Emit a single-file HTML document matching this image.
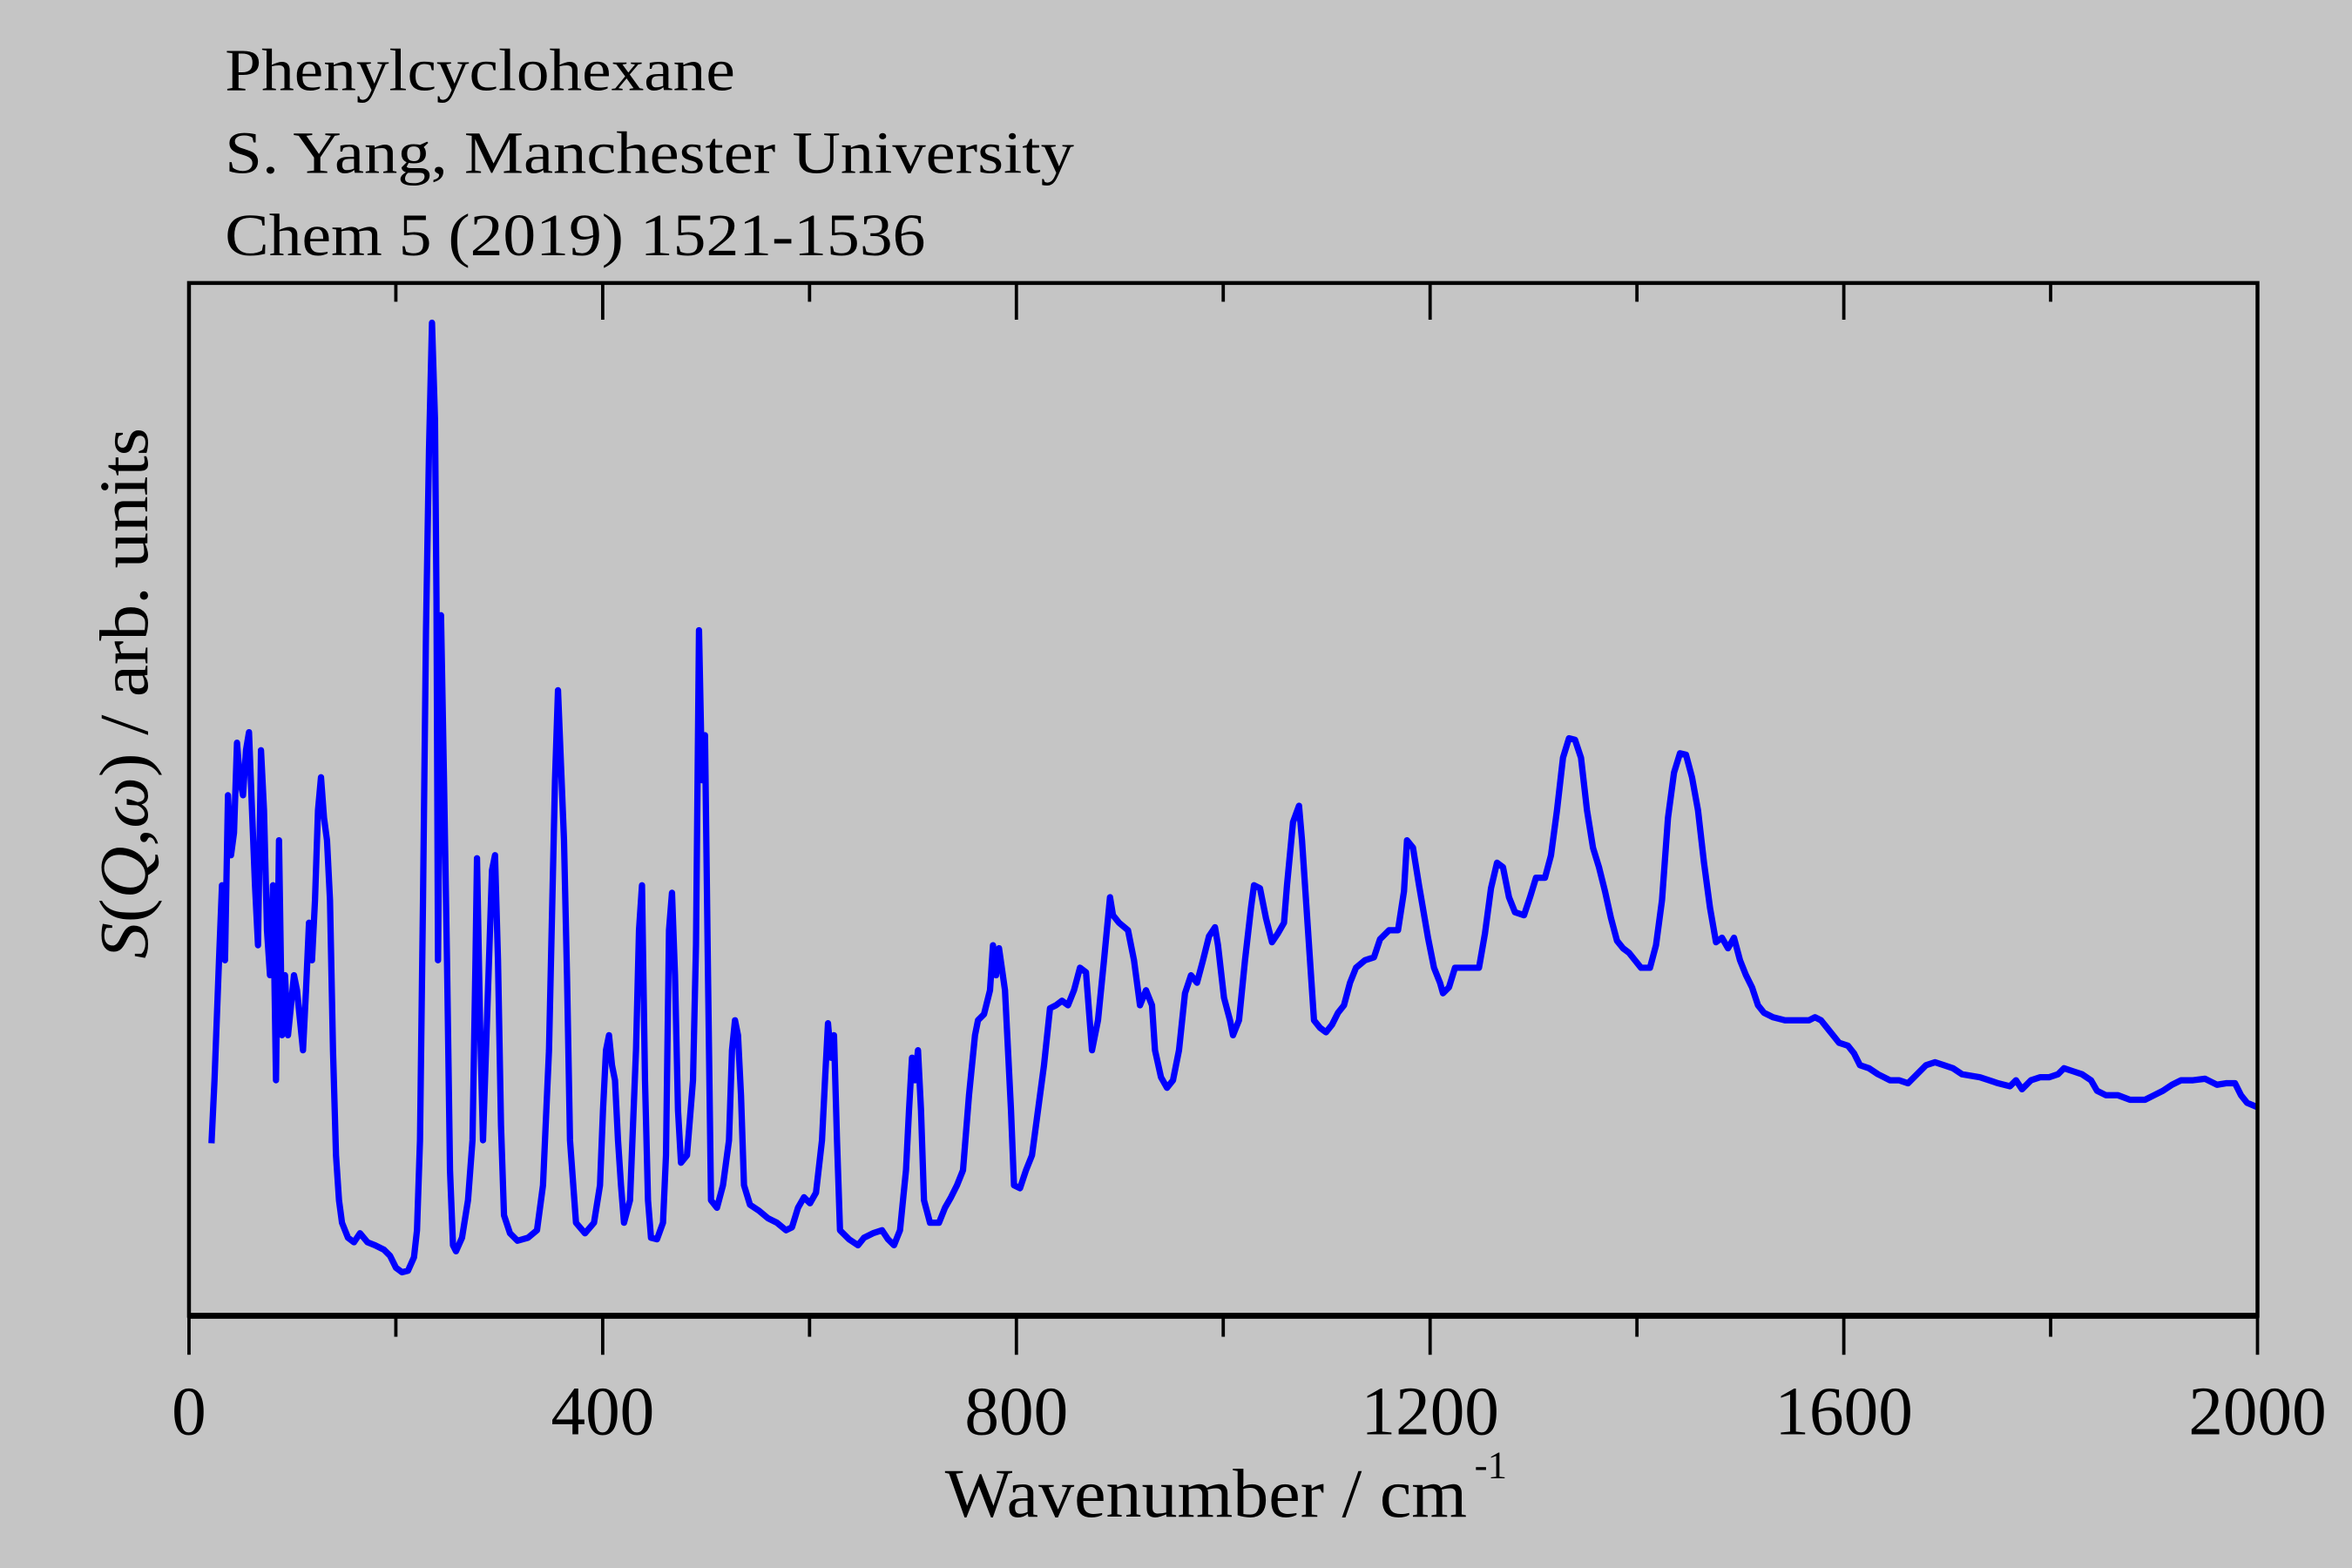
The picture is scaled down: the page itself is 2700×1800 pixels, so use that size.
<!DOCTYPE html>
<html><head><meta charset="utf-8"><style>html,body{margin:0;padding:0;background:#c5c5c5}svg{display:block}svg text{font-family:"Liberation Serif","Times New Roman",Times,serif}</style></head>
<body>
<svg width="2700" height="1800" viewBox="0 0 1568 1045" xmlns="http://www.w3.org/2000/svg" style="font-family:'Liberation Serif','Times New Roman',serif">
<rect width="1568" height="1045" fill="#c5c5c5"/>
<g fill="#000" font-size="40">
<text x="150" y="60" textLength="340" lengthAdjust="spacingAndGlyphs">Phenylcyclohexane</text>
<text x="150" y="115" textLength="566" lengthAdjust="spacingAndGlyphs">S. Yang, Manchester University</text>
<text x="150" y="170" textLength="467" lengthAdjust="spacingAndGlyphs">Chem 5 (2019) 1521-1536</text>
</g>
<polyline fill="none" stroke="#0000ff" stroke-width="4.2" stroke-linejoin="round" points="141,762 143,720 146,640 148,590 150,640 152,530 154,570 156,555 158,495 160,520 162,530 164,500 166,488 168,540 170,590 172,630 174,500 176,540 178,620 180,650 182,590 184,720 186,560 188,690 190,650 192,690 194,670 196,650 198,660 200,680 202,700 204,660 206,615 208,640 210,600 212,540 214,518 216,545 218,560 220,600 222,700 224,770 226,800 228,815 232,825 236,828 240,822 245,828 250,830 256,833 260,837 264,845 268,848 272,847 276,838 278,820 280,760 282,600 284,420 286,300 288,215 290,280 291,400 292,640 294,410 296,520 298,640 300,780 302,830 304,834 308,825 312,800 315,760 317,640 318,572 320,680 322,760 324,700 326,640 328,580 330,570 332,640 334,750 336,810 340,822 345,827 352,825 358,820 362,790 366,700 370,520 372,460 374,510 376,560 378,650 380,760 384,815 390,822 396,815 400,790 402,740 404,700 406,690 408,710 410,720 412,760 414,790 416,815 420,800 424,700 426,620 428,590 430,720 432,800 434,825 438,826 442,815 444,770 446,620 448,595 450,650 452,740 454,775 458,770 462,720 464,630 466,420 468,520 470,490 472,650 474,800 478,805 482,790 486,760 488,700 490,680 492,690 494,730 496,790 500,803 506,807 512,812 518,815 524,820 528,818 532,805 536,798 540,802 544,795 548,760 550,720 552,682 554,705 556,690 558,760 560,820 566,826 572,830 576,825 582,822 588,820 592,826 596,830 600,820 604,780 606,740 608,705 610,720 612,700 614,740 616,800 620,815 626,815 630,805 634,798 638,790 642,780 646,730 650,690 652,680 656,676 660,660 662,630 664,650 666,632 670,660 674,740 676,790 680,792 684,780 688,770 692,740 696,710 700,672 704,670 708,667 712,670 716,660 720,645 724,648 728,700 732,680 736,640 740,598 742,610 746,615 752,620 756,640 760,670 764,660 768,670 770,700 774,718 778,725 782,720 786,700 790,662 794,650 798,655 802,640 806,624 810,618 812,630 816,665 820,680 822,690 826,680 830,640 834,605 836,590 840,592 844,612 848,628 852,622 856,615 858,590 862,548 866,537 868,560 872,620 876,680 880,685 884,688 888,683 892,675 896,670 900,655 904,645 910,640 916,638 920,626 926,620 932,620 936,594 938,560 942,565 946,590 952,625 956,645 960,655 962,662 966,658 970,645 978,645 986,645 990,622 994,592 998,575 1002,578 1006,598 1010,608 1016,610 1020,598 1024,585 1030,585 1034,570 1038,540 1042,505 1046,492 1050,493 1054,505 1058,540 1062,565 1066,578 1070,594 1074,612 1078,627 1082,632 1086,635 1090,640 1094,645 1100,645 1104,630 1108,600 1112,545 1116,515 1120,502 1124,503 1128,518 1132,540 1136,575 1140,605 1144,628 1148,625 1152,632 1156,625 1160,640 1164,650 1168,658 1172,670 1176,675 1182,678 1190,680 1198,680 1206,680 1210,678 1214,680 1218,685 1222,690 1226,695 1232,697 1236,702 1240,710 1246,712 1252,716 1260,720 1266,720 1272,722 1278,716 1284,710 1290,708 1296,710 1302,712 1308,716 1314,717 1320,718 1326,720 1332,722 1340,724 1344,720 1348,726 1354,720 1360,718 1366,718 1372,716 1376,712 1382,714 1388,716 1394,720 1398,727 1404,730 1412,730 1420,733 1430,733 1436,730 1442,727 1448,723 1454,720 1462,720 1470,719 1478,723 1484,722 1490,722 1494,730 1498,735 1505,738"/>
<rect x="126" y="188.5" width="1379" height="688.5" fill="none" stroke="#000" stroke-width="2.6"/>
<line x1="125" y1="877" x2="1506" y2="877" stroke="#000" stroke-width="4"/>
<g stroke="#000" stroke-width="2.2">
<line x1="126" y1="877" x2="126" y2="903"/><line x1="401.8" y1="877" x2="401.8" y2="903"/><line x1="677.6" y1="877" x2="677.6" y2="903"/><line x1="953.4" y1="877" x2="953.4" y2="903"/><line x1="1229.2" y1="877" x2="1229.2" y2="903"/><line x1="1505" y1="877" x2="1505" y2="903"/>
<line x1="263.9" y1="877" x2="263.9" y2="891"/><line x1="539.7" y1="877" x2="539.7" y2="891"/><line x1="815.5" y1="877" x2="815.5" y2="891"/><line x1="1091.3" y1="877" x2="1091.3" y2="891"/><line x1="1367.1" y1="877" x2="1367.1" y2="891"/>
<line x1="401.8" y1="188" x2="401.8" y2="213"/><line x1="677.6" y1="188" x2="677.6" y2="213"/><line x1="953.4" y1="188" x2="953.4" y2="213"/><line x1="1229.2" y1="188" x2="1229.2" y2="213"/>
<line x1="263.9" y1="188" x2="263.9" y2="201"/><line x1="539.7" y1="188" x2="539.7" y2="201"/><line x1="815.5" y1="188" x2="815.5" y2="201"/><line x1="1091.3" y1="188" x2="1091.3" y2="201"/><line x1="1367.1" y1="188" x2="1367.1" y2="201"/>
</g>
<g fill="#000" font-size="46" text-anchor="middle">
<text x="126" y="956">0</text><text x="401.8" y="956">400</text><text x="677.6" y="956">800</text><text x="953.4" y="956">1200</text><text x="1229.2" y="956">1600</text><text x="1505" y="956">2000</text>
</g>
<text x="630" y="1011" font-size="46" textLength="348" lengthAdjust="spacingAndGlyphs">Wavenumber / cm</text>
<text x="983" y="985" font-size="26">-1</text>
<text transform="translate(98,639) rotate(-90)" font-size="46" textLength="354" lengthAdjust="spacingAndGlyphs"><tspan font-style="italic">S</tspan>(<tspan font-style="italic">Q</tspan>,<tspan font-style="italic">ω</tspan>) / arb. units</text>
</svg>
</body></html>
